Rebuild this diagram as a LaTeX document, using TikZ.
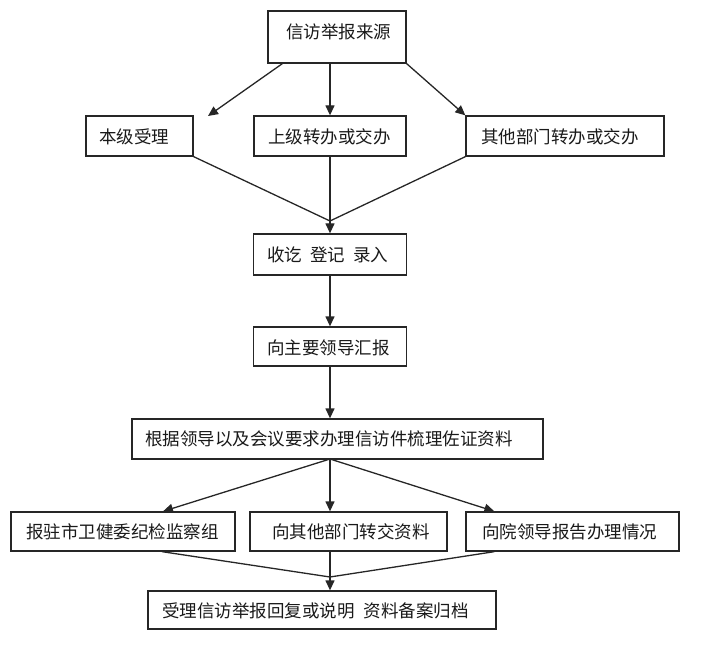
\documentclass[tikz,border=0pt]{standalone}
\usepackage{fontspec}
\setmainfont{Noto Sans CJK SC}
\usetikzlibrary{arrows.meta}
\begin{document}
\begin{tikzpicture}[x=1pt,y=-1pt,
  box/.style={draw=black!85, line width=1.3pt, inner sep=0pt},
  txt/.style={anchor=west, inner sep=0pt, text=black!90, font=\fontsize{17.5}{20}\selectfont},
  conn/.style={draw=black!85, line width=1.3pt},
  arr/.style={conn, -{Triangle[length=10pt,width=9pt]}}]
\useasboundingbox (0,0) rectangle (720,668);
% boxes
\node[box, minimum width=138pt, minimum height=52pt] (b1) at (337,37) {};
\node[box, minimum width=107pt, minimum height=40pt] (b2) at (139.5,136) {};
\node[box, minimum width=152pt, minimum height=40pt] (b3) at (330,136) {};
\node[box, minimum width=198pt, minimum height=40pt] (b4) at (565,136) {};
\node[box, minimum width=153pt, minimum height=41pt] (b5) at (330,254.5) {};
\node[box, minimum width=153pt, minimum height=39pt] (b6) at (330,346.5) {};
\node[box, minimum width=411pt, minimum height=40pt] (b7) at (337.5,439) {};
\node[box, minimum width=224pt, minimum height=39pt] (b8) at (123,531.5) {};
\node[box, minimum width=197pt, minimum height=39pt] (b9) at (348.5,531.5) {};
\node[box, minimum width=213pt, minimum height=39pt] (b10) at (572.5,531.5) {};
\node[box, minimum width=348pt, minimum height=38pt] (b11) at (322,610) {};
% texts
\node[txt] (t1) at (286,32) {信访举报来源};
\node[txt] (t2) at (99,137) {本级受理};
\node[txt] (t3) at (268,137) {上级转办或交办};
\node[txt] (t4) at (481,137) {其他部门转办或交办};
\node[txt] (t5) at (267,255) {收讫\hspace{8pt}登记\hspace{8pt}录入};
\node[txt] (t6) at (267,348) {向主要领导汇报};
\node[txt] (t7) at (145,439) {根据领导以及会议要求办理信访件梳理佐证资料};
\node[txt] (t8) at (26,532) {报驻市卫健委纪检监察组};
\node[txt] (t9) at (272,532) {向其他部门转交资料};
\node[txt] (t10) at (482,532) {向院领导报告办理情况};
\node[txt] (t11) at (162,611) {受理信访举报回复或说明\hspace{9pt}资料备案归档};
% coordinates
\coordinate (c1) at (208,116);
\coordinate (m1) at (330,221);
\coordinate (s7) at (330,459);
\coordinate (m2) at (330,577);
% top fan-out
\draw[arr] ([xshift=15pt]b1.south west) -- (c1);
\draw[arr] ([xshift=-7pt]b1.south) -- (b3.north);
\draw[arr] (b1.south east) -- (b4.north west);
% merge into b5
\draw[conn] (b2.south east) -- (m1);
\draw[conn] (b4.south west) -- (m1);
\draw[arr] (b3.south) -- (b3.south |- b5.north);
% chain
\draw[arr] (b5.south) -- (b6.north);
\draw[arr] (b6.south) -- (b6.south |- b7.north);
% second fan-out
\draw[arr] (s7) -- ([xshift=40pt]b8.north);
\draw[arr] (s7) -- (s7 |- b9.north);
\draw[arr] (s7) -- ([xshift=29pt]b10.north west);
% merge into b11
\draw[conn] ([xshift=39pt]b8.south) -- (m2);
\draw[conn] ([xshift=29pt]b10.south west) -- (m2);
\draw[arr] (s7 |- b9.south) -- (s7 |- b11.north);
\end{tikzpicture}
\end{document}
